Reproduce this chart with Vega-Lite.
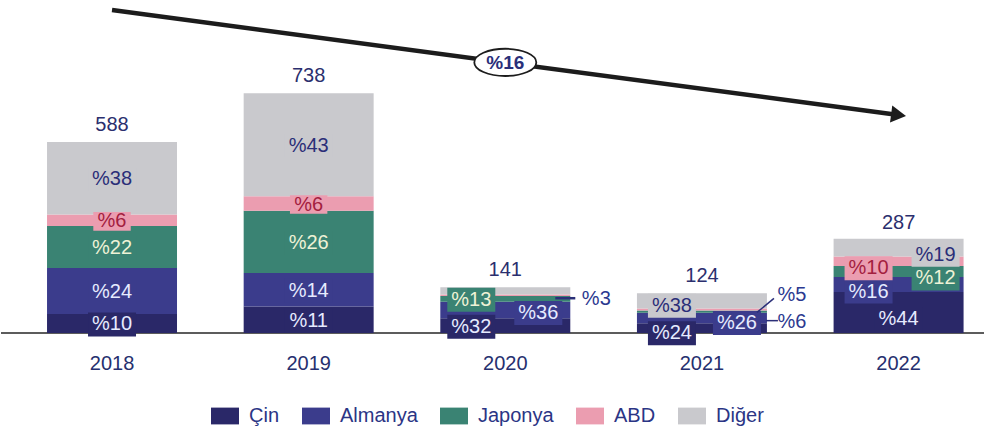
{
  "$schema": "https://vega.github.io/schema/vega-lite/v6.json",
  "width": 984,
  "height": 333,
  "padding": 0,
  "autosize": {"type": "pad"},
  "background": "#ffffff",
  "config": {"view": {"stroke": null}, "font": "Liberation Sans"},
  "datasets": {
    "seg": [
      {"year": "2018", "country": "Çin", "label": "%10", "value": 58.8},
      {"year": "2018", "country": "Almanya", "label": "%24", "value": 141.1},
      {"year": "2018", "country": "Japonya", "label": "%22", "value": 129.4},
      {"year": "2018", "country": "ABD", "label": "%6", "value": 35.3},
      {"year": "2018", "country": "Diğer", "label": "%38", "value": 223.4},
      {"year": "2019", "country": "Çin", "label": "%11", "value": 81.2},
      {"year": "2019", "country": "Almanya", "label": "%14", "value": 103.3},
      {"year": "2019", "country": "Japonya", "label": "%26", "value": 191.9},
      {"year": "2019", "country": "ABD", "label": "%6", "value": 44.3},
      {"year": "2019", "country": "Diğer", "label": "%43", "value": 317.3},
      {"year": "2020", "country": "Çin", "label": "%32", "value": 45.1},
      {"year": "2020", "country": "Almanya", "label": "%36", "value": 50.8},
      {"year": "2020", "country": "Japonya", "label": "%13", "value": 18.3},
      {"year": "2020", "country": "ABD", "label": "%3", "value": 4.2},
      {"year": "2020", "country": "Diğer", "label": "%16", "value": 22.6},
      {"year": "2021", "country": "Çin", "label": "%24", "value": 29.8},
      {"year": "2021", "country": "Almanya", "label": "%26", "value": 32.2},
      {"year": "2021", "country": "Japonya", "label": "%6", "value": 7.4},
      {"year": "2021", "country": "ABD", "label": "%5", "value": 6.2},
      {"year": "2021", "country": "Diğer", "label": "%38", "value": 47.1},
      {"year": "2022", "country": "Çin", "label": "%44", "value": 126.3},
      {"year": "2022", "country": "Almanya", "label": "%16", "value": 45.9},
      {"year": "2022", "country": "Japonya", "label": "%12", "value": 34.4},
      {"year": "2022", "country": "ABD", "label": "%10", "value": 28.7},
      {"year": "2022", "country": "Diğer", "label": "%19", "value": 54.5}
    ],
    "tot": [
      {"year": "2018", "total": 588},
      {"year": "2019", "total": 738},
      {"year": "2020", "total": 141},
      {"year": "2021", "total": 124},
      {"year": "2022", "total": 287}
    ],
    "trend": [
      {"year": "2018", "v": 994},
      {"year": "2022", "v": 671}
    ],
    "cagr": [
      {"year": "2020", "v": 833, "label": "%16"}
    ]
  },
  "layer": [
    {
      "data": {"name": "tot"},
      "mark": {"type": "rule", "color": "#5c5c5c", "strokeWidth": 2},
      "encoding": {"y": {"datum": 0, "type": "quantitative", "scale": {"domain": [0, 1025]}, "axis": null}}
    },
    {
      "encoding": {
        "x": {
          "field": "year", "type": "ordinal",
          "scale": {"type": "band", "domain": ["2018", "2019", "2020", "2021", "2022"], "range": [12.6, 996], "paddingInner": 0.339, "paddingOuter": 0.17},
          "axis": {"title": null, "domain": false, "ticks": false, "labelAngle": 0, "labelFontSize": 20, "labelColor": "#26306f", "labelPadding": 20, "labelFont": "Liberation Sans"}
        }
      },
      "layer": [
        {
          "data": {"name": "seg"},
          "transform": [{"stack": "value", "groupby": ["year"], "as": ["y0", "y1"]}],
          "mark": {"type": "bar", "clip": true},
          "encoding": {
            "y": {"field": "y1", "type": "quantitative", "scale": {"domain": [0, 1025]}, "axis": null},
            "y2": {"field": "y0"},
            "color": {
              "field": "country", "type": "nominal",
              "scale": {"domain": ["Çin", "Almanya", "Japonya", "ABD", "Diğer"], "range": ["#2a2868", "#3b3c8c", "#3a8373", "#eb9db0", "#c9c9cd"]},
              "legend": {"orient": "none", "legendX": 210, "legendY": 402, "direction": "horizontal", "title": null, "symbolType": "M-1,-0.6H1V0.6H-1Z", "symbolSize": 784, "symbolStrokeWidth": 0, "symbolOpacity": 1, "labelFontSize": 20, "labelFont": "Liberation Sans", "labelColor": "#2b3585", "labelOffset": 10, "columnPadding": 22, "padding": 0}
            }
          }
        },
        {
          "data": {"name": "seg"},
          "transform": [
            {"stack": "value", "groupby": ["year"], "as": ["y0", "y1"]},
            {"fold": ["y0", "y1"], "as": ["edge", "pos"]},
            {"aggregate": [{"op": "mean", "field": "pos", "as": "mid"}], "groupby": ["year", "country", "label"]}
          ],
          "encoding": {
            "y": {"field": "mid", "type": "quantitative", "scale": {"domain": [0, 1025]}, "axis": null},
            "text": {"field": "label"},
            "color": {
              "condition": [
                {"test": "datum.country==='Diğer'", "value": "#2a2e78"},
                {"test": "datum.country==='ABD'", "value": "#a3203f"},
                {"test": "datum.country==='Japonya'", "value": "#eef2d6"}
              ],
              "value": "#e6ebff"
            }
          },
          "layer": [
            {
              "transform": [{"filter": "datum.year==='2018'||datum.year==='2019'"}],
              "layer": [
                {"mark": {"type": "point", "shape": "M-1,-0.5H1V0.5H-1Z", "filled": true, "opacity": 1, "strokeWidth": 0, "yOffset": 1},
                 "encoding": {"color": {"condition": [{"test": "datum.country==='Çin'", "value": "#2a2868"}, {"test": "datum.country==='Almanya'", "value": "#3b3c8c"}, {"test": "datum.country==='Japonya'", "value": "#3a8373"}, {"test": "datum.country==='ABD'", "value": "#eb9db0"}], "value": "#c9c9cd"},
                              "size": {"condition": {"test": "length(datum.label)<3", "value": 1400}, "value": 2304}}},
                {"mark": {"type": "text", "fontSize": 20, "baseline": "middle", "dy": 1}}
              ]
            },
            {
              "transform": [{"filter": "datum.year==='2020'&&(datum.country==='Çin'||datum.country==='Japonya')"}],
              "layer": [
                {"mark": {"type": "point", "shape": "M-1,-0.5H1V0.5H-1Z", "filled": true, "opacity": 1, "strokeWidth": 0, "xOffset": -34, "yOffset": 1},
                 "encoding": {"color": {"condition": [{"test": "datum.country==='Çin'", "value": "#2a2868"}], "value": "#3a8373"},
                              "size": {"value": 2304}}},
                {"mark": {"type": "text", "fontSize": 20, "baseline": "middle", "dx": -34, "dy": 1}}
              ]
            },
            {
              "transform": [{"filter": "datum.year==='2020'&&datum.country==='Almanya'"}],
              "layer": [
                {"mark": {"type": "point", "shape": "M-1,-0.5H1V0.5H-1Z", "filled": true, "opacity": 1, "strokeWidth": 0, "xOffset": 33, "yOffset": 3},
                 "encoding": {"color": {"value": "#3b3c8c"}, "size": {"value": 2304}}},
                {"mark": {"type": "text", "fontSize": 20, "baseline": "middle", "dx": 33, "dy": 3}}
              ]
            },
            {
              "transform": [{"filter": "datum.year==='2020'&&datum.country==='ABD'"}],
              "layer": [
                {"mark": {"type": "rule", "strokeWidth": 2.5, "xOffset": 50, "x2Offset": 70, "yOffset": 3, "y2Offset": 3},
                 "encoding": {"x2": {"field": "year"}, "y2": {"field": "mid"}, "color": {"value": "#2b2f78"}}},
                {"mark": {"type": "text", "fontSize": 20, "baseline": "middle", "dx": 91, "dy": 4}, "encoding": {"color": {"value": "#2b3990"}}}
              ]
            },
            {
              "transform": [{"filter": "datum.year==='2021'&&(datum.country==='Çin'||datum.country==='Diğer')"}],
              "layer": [
                {"mark": {"type": "point", "shape": "M-1,-0.5H1V0.5H-1Z", "filled": true, "opacity": 1, "strokeWidth": 0, "xOffset": -30, "yOffset": 5},
                 "encoding": {"color": {"condition": [{"test": "datum.country==='Çin'", "value": "#2a2868"}], "value": "#c9c9cd"},
                              "size": {"value": 2304}}},
                {"mark": {"type": "text", "fontSize": 20, "baseline": "middle", "dx": -30, "dy": 5}}
              ]
            },
            {
              "transform": [{"filter": "datum.year==='2021'&&datum.country==='Almanya'"}],
              "layer": [
                {"mark": {"type": "point", "shape": "M-1,-0.5H1V0.5H-1Z", "filled": true, "opacity": 1, "strokeWidth": 0, "xOffset": 35, "yOffset": 5},
                 "encoding": {"color": {"value": "#3b3c8c"}, "size": {"value": 2304}}},
                {"mark": {"type": "text", "fontSize": 20, "baseline": "middle", "dx": 35, "dy": 5}}
              ]
            },
            {
              "transform": [{"filter": "datum.year==='2021'&&datum.country==='Japonya'"}],
              "layer": [
                {"mark": {"type": "rule", "strokeWidth": 1.5, "xOffset": 64, "x2Offset": 76, "yOffset": 9, "y2Offset": 9},
                 "encoding": {"x2": {"field": "year"}, "y2": {"field": "mid"}, "color": {"value": "#2b2f78"}}},
                {"mark": {"type": "text", "fontSize": 20, "baseline": "middle", "dx": 90, "dy": 10}, "encoding": {"color": {"value": "#2b3990"}}}
              ]
            },
            {
              "transform": [{"filter": "datum.year==='2021'&&datum.country==='ABD'"}],
              "layer": [
                {"mark": {"type": "rule", "strokeWidth": 1.5, "xOffset": 55, "x2Offset": 72, "yOffset": 3, "y2Offset": -11},
                 "encoding": {"x2": {"field": "year"}, "y2": {"field": "mid"}, "color": {"value": "#2b2f78"}}},
                {"mark": {"type": "text", "fontSize": 20, "baseline": "middle", "dx": 90, "dy": -14}, "encoding": {"color": {"value": "#2b3990"}}}
              ]
            },
            {
              "transform": [{"filter": "datum.year==='2022'&&datum.country==='Çin'"}],
              "layer": [
                {"mark": {"type": "point", "shape": "M-1,-0.5H1V0.5H-1Z", "filled": true, "opacity": 1, "strokeWidth": 0, "yOffset": 7},
                 "encoding": {"color": {"value": "#2a2868"}, "size": {"value": 2304}}},
                {"mark": {"type": "text", "fontSize": 20, "baseline": "middle", "dy": 7}}
              ]
            },
            {
              "transform": [{"filter": "datum.year==='2022'&&(datum.country==='Almanya'||datum.country==='ABD')"}],
              "layer": [
                {"mark": {"type": "point", "shape": "M-1,-0.5H1V0.5H-1Z", "filled": true, "opacity": 1, "strokeWidth": 0, "xOffset": -30, "yOffset": 7},
                 "encoding": {"color": {"condition": [{"test": "datum.country==='Almanya'", "value": "#3b3c8c"}], "value": "#eb9db0"},
                              "size": {"value": 2304}}},
                {"mark": {"type": "text", "fontSize": 20, "baseline": "middle", "dx": -30, "dy": 7}}
              ]
            },
            {
              "transform": [{"filter": "datum.year==='2022'&&(datum.country==='Japonya'||datum.country==='Diğer')"}],
              "layer": [
                {"mark": {"type": "point", "shape": "M-1,-0.5H1V0.5H-1Z", "filled": true, "opacity": 1, "strokeWidth": 0, "xOffset": 37, "yOffset": 7},
                 "encoding": {"color": {"condition": [{"test": "datum.country==='Japonya'", "value": "#3a8373"}], "value": "#c9c9cd"},
                              "size": {"value": 2304}}},
                {"mark": {"type": "text", "fontSize": 20, "baseline": "middle", "dx": 37, "dy": 7}}
              ]
            }
          ]
        },
        {
          "data": {"name": "tot"},
          "mark": {"type": "text", "fontSize": 20, "baseline": "alphabetic", "dy": -11, "color": "#2b2f6e"},
          "encoding": {
            "y": {"field": "total", "type": "quantitative", "scale": {"domain": [0, 1025]}, "axis": null},
            "text": {"field": "total", "type": "quantitative"}
          }
        },
        {
          "data": {"name": "trend"},
          "mark": {"type": "line", "color": "#1c1c1c", "strokeWidth": 4.5},
          "encoding": {
            "y": {"field": "v", "type": "quantitative", "scale": {"domain": [0, 1025]}, "axis": null}
          }
        },
        {
          "data": {"name": "trend"},
          "transform": [{"filter": "datum.year==='2022'"}],
          "mark": {"type": "point", "shape": "triangle-right", "angle": 7.5, "filled": true, "size": 300, "color": "#1c1c1c", "opacity": 1},
          "encoding": {
            "y": {"field": "v", "type": "quantitative", "scale": {"domain": [0, 1025]}, "axis": null}
          }
        },
        {
          "data": {"name": "cagr"},
          "mark": {"type": "point", "shape": "M-1,0A1,0.44,0,1,1,1,0A1,0.44,0,1,1,-1,0Z", "size": 3844, "filled": true, "fill": "#ffffff", "stroke": "#1c1c1c", "strokeWidth": 1.8, "opacity": 1},
          "encoding": {
            "y": {"field": "v", "type": "quantitative", "scale": {"domain": [0, 1025]}, "axis": null}
          }
        },
        {
          "data": {"name": "cagr"},
          "mark": {"type": "text", "fontSize": 19, "fontWeight": "bold", "baseline": "middle", "color": "#2a2f7a", "dy": 1},
          "encoding": {
            "y": {"field": "v", "type": "quantitative", "scale": {"domain": [0, 1025]}, "axis": null},
            "text": {"field": "label"}
          }
        }
      ]
    }
  ]
}
